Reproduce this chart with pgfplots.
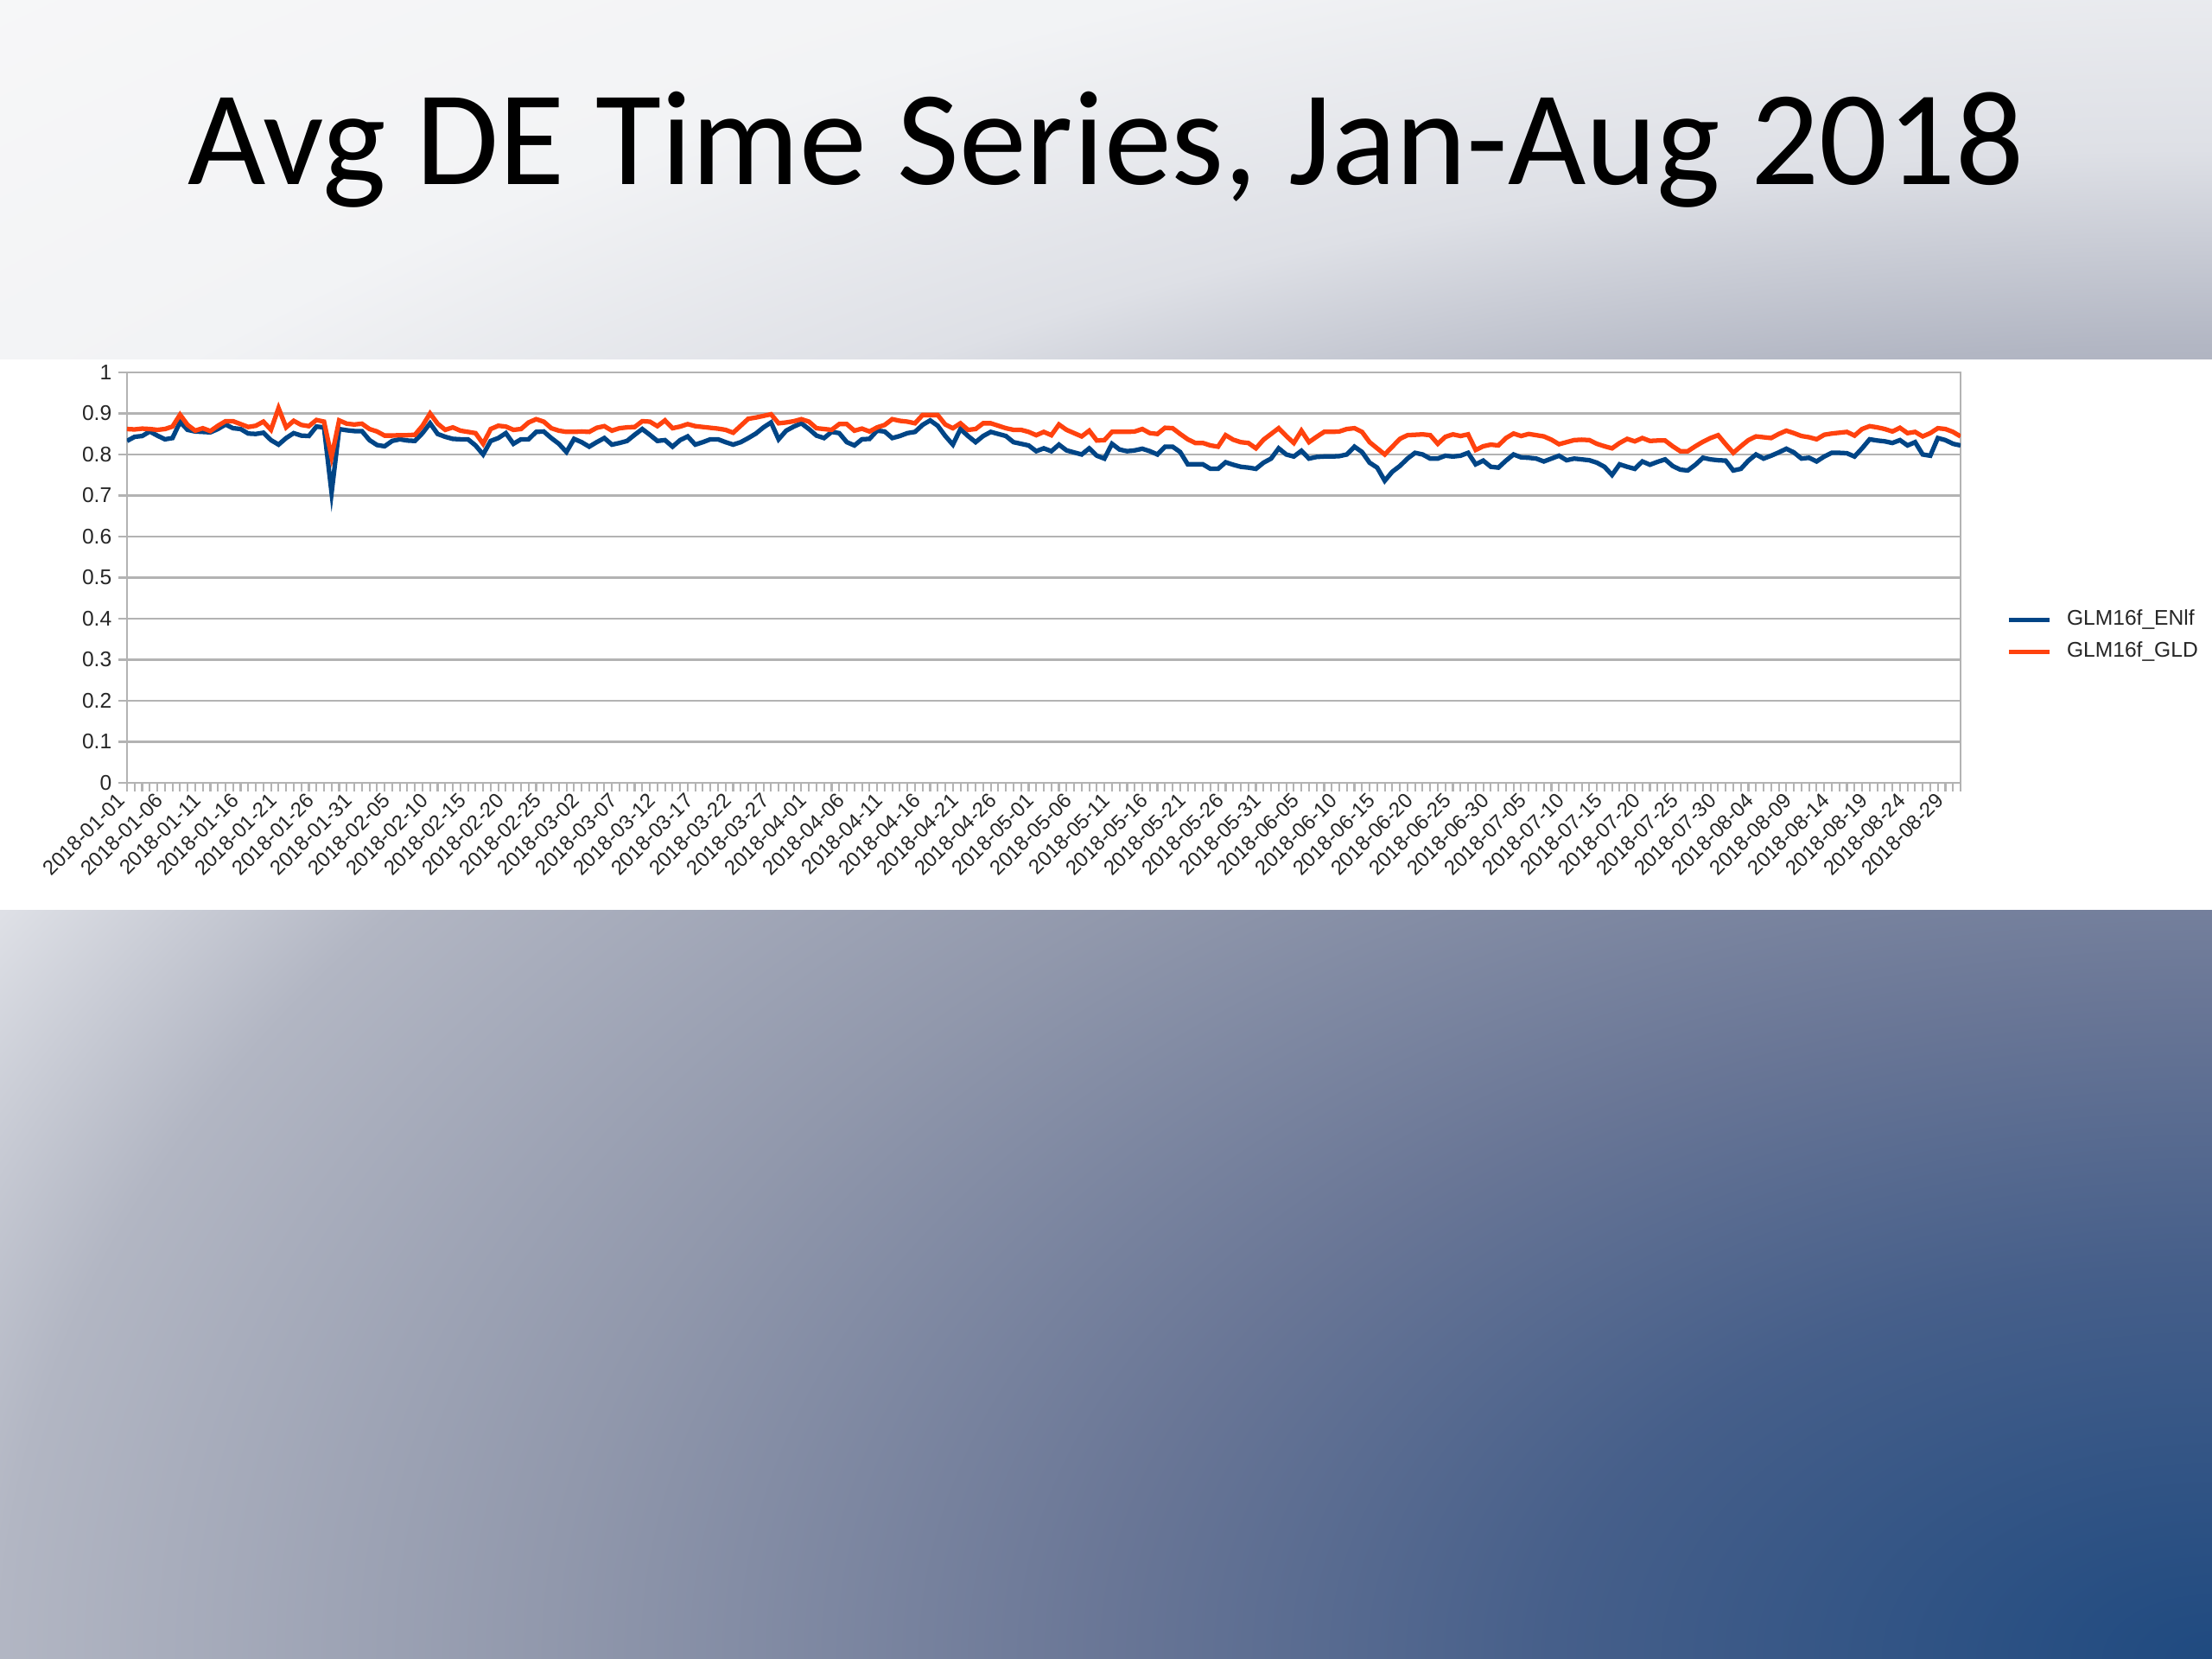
\documentclass[border=0pt]{standalone}
\usepackage{fontspec}
\setmainfont{Carlito}
\newfontfamily\chartfont{Liberation Sans}
\usepackage{pgfplots}
\usepackage{pgfplotstable}
\pgfplotsset{compat=1.18}
\definecolor{enlf}{HTML}{004586}
\definecolor{gld}{HTML}{FF420E}
\definecolor{gridc}{HTML}{B3B3B3}
\definecolor{bg0}{RGB}{31,74,128}
\definecolor{bg1}{RGB}{70,95,138}
\definecolor{bg2}{RGB}{105,118,150}
\definecolor{bg3}{RGB}{145,152,172}
\definecolor{bg4}{RGB}{178,182,195}
\definecolor{bg5}{RGB}{222,224,230}
\definecolor{bg6}{RGB}{242,243,245}
\definecolor{bg7}{RGB}{248,248,249}
\pgfdeclareradialshading{slidebg}{\pgfpoint{0bp}{0bp}}{color(0bp)=(bg0); color(4.4bp)=(bg1); color(7.35bp)=(bg2); color(11.05bp)=(bg3); color(14.7bp)=(bg4); color(16.9bp)=(bg5); color(19.85bp)=(bg6); color(25bp)=(bg7); color(50bp)=(bg7)}

\pgfplotstableread{
d enlf gld
0 0.833 0.862
1 0.843 0.861
2 0.845 0.863
3 0.856 0.862
4 0.846 0.860
5 0.837 0.862
6 0.840 0.868
7 0.879 0.897
8 0.860 0.872
9 0.856 0.858
10 0.855 0.864
11 0.854 0.857
12 0.862 0.870
13 0.873 0.881
14 0.864 0.881
15 0.862 0.874
16 0.851 0.867
17 0.850 0.870
18 0.853 0.880
19 0.835 0.860
20 0.824 0.913
21 0.840 0.866
22 0.852 0.882
23 0.846 0.872
24 0.845 0.869
25 0.868 0.884
26 0.866 0.880
27 0.707 0.794
28 0.862 0.883
29 0.859 0.875
30 0.857 0.873
31 0.857 0.875
32 0.835 0.862
33 0.823 0.856
34 0.820 0.846
35 0.833 0.846
36 0.837 0.847
37 0.834 0.847
38 0.833 0.848
39 0.852 0.870
40 0.876 0.900
41 0.850 0.875
42 0.843 0.860
43 0.838 0.866
44 0.837 0.858
45 0.837 0.855
46 0.822 0.852
47 0.800 0.826
48 0.833 0.862
49 0.840 0.870
50 0.852 0.868
51 0.826 0.860
52 0.837 0.862
53 0.837 0.878
54 0.855 0.886
55 0.856 0.880
56 0.840 0.864
57 0.826 0.858
58 0.806 0.855
59 0.838 0.855
60 0.830 0.856
61 0.819 0.855
62 0.830 0.865
63 0.840 0.869
64 0.824 0.858
65 0.828 0.864
66 0.833 0.866
67 0.848 0.867
68 0.862 0.881
69 0.848 0.880
70 0.833 0.869
71 0.835 0.883
72 0.819 0.864
73 0.835 0.868
74 0.844 0.874
75 0.824 0.869
76 0.830 0.867
77 0.837 0.865
78 0.837 0.863
79 0.830 0.860
80 0.824 0.853
81 0.830 0.870
82 0.840 0.887
83 0.851 0.890
84 0.866 0.894
85 0.878 0.898
86 0.837 0.876
87 0.858 0.878
88 0.868 0.881
89 0.876 0.886
90 0.862 0.880
91 0.846 0.864
92 0.840 0.862
93 0.855 0.860
94 0.852 0.874
95 0.830 0.874
96 0.822 0.858
97 0.837 0.863
98 0.838 0.856
99 0.858 0.866
100 0.856 0.872
101 0.840 0.886
102 0.845 0.882
103 0.852 0.880
104 0.855 0.876
105 0.872 0.896
106 0.883 0.896
107 0.870 0.896
108 0.845 0.873
109 0.824 0.864
110 0.862 0.876
111 0.845 0.860
112 0.830 0.862
113 0.845 0.876
114 0.855 0.876
115 0.850 0.870
116 0.845 0.864
117 0.830 0.860
118 0.826 0.860
119 0.822 0.855
120 0.808 0.847
121 0.815 0.855
122 0.808 0.847
123 0.824 0.873
124 0.810 0.860
125 0.805 0.852
126 0.800 0.844
127 0.815 0.858
128 0.797 0.834
129 0.790 0.835
130 0.826 0.855
131 0.812 0.855
132 0.808 0.855
133 0.810 0.856
134 0.814 0.862
135 0.808 0.852
136 0.800 0.850
137 0.819 0.865
138 0.819 0.864
139 0.806 0.850
140 0.776 0.837
141 0.776 0.828
142 0.776 0.828
143 0.765 0.822
144 0.765 0.819
145 0.781 0.847
146 0.775 0.836
147 0.770 0.830
148 0.768 0.828
149 0.765 0.815
150 0.780 0.836
151 0.790 0.850
152 0.815 0.864
153 0.800 0.845
154 0.795 0.828
155 0.809 0.858
156 0.790 0.830
157 0.794 0.843
158 0.795 0.855
159 0.795 0.855
160 0.796 0.856
161 0.800 0.862
162 0.819 0.864
163 0.806 0.855
164 0.780 0.830
165 0.768 0.815
166 0.736 0.800
167 0.758 0.819
168 0.772 0.838
169 0.790 0.847
170 0.804 0.848
171 0.800 0.849
172 0.790 0.847
173 0.790 0.826
174 0.797 0.843
175 0.795 0.849
176 0.797 0.845
177 0.804 0.849
178 0.776 0.811
179 0.785 0.820
180 0.770 0.824
181 0.768 0.822
182 0.785 0.840
183 0.800 0.851
184 0.793 0.845
185 0.792 0.850
186 0.790 0.847
187 0.783 0.844
188 0.790 0.836
189 0.797 0.825
190 0.786 0.830
191 0.790 0.835
192 0.788 0.836
193 0.786 0.835
194 0.780 0.826
195 0.770 0.820
196 0.750 0.815
197 0.776 0.828
198 0.770 0.838
199 0.765 0.832
200 0.783 0.840
201 0.775 0.833
202 0.782 0.834
203 0.788 0.834
204 0.772 0.820
205 0.763 0.808
206 0.761 0.808
207 0.775 0.820
208 0.792 0.831
209 0.788 0.840
210 0.786 0.847
211 0.785 0.825
212 0.761 0.804
213 0.765 0.820
214 0.785 0.835
215 0.800 0.844
216 0.790 0.842
217 0.797 0.840
218 0.805 0.850
219 0.814 0.858
220 0.805 0.852
221 0.790 0.845
222 0.792 0.842
223 0.783 0.837
224 0.795 0.848
225 0.804 0.851
226 0.804 0.853
227 0.803 0.855
228 0.795 0.846
229 0.815 0.862
230 0.837 0.869
231 0.834 0.866
232 0.832 0.862
233 0.828 0.856
234 0.835 0.865
235 0.822 0.852
236 0.830 0.855
237 0.800 0.844
238 0.797 0.852
239 0.840 0.864
240 0.835 0.862
241 0.826 0.855
242 0.822 0.844
}\detable

\begin{document}
\begin{tikzpicture}
\useasboundingbox (0,0) rectangle (25.6,19.2);
\begin{scope}
\clip (0,0) rectangle (25.6,19.2);
\fill[bg7] (0,0) rectangle (25.6,19.2);
\shade[shading=slidebg] (25.6,0) ellipse [x radius=43.52cm, y radius=25.84cm];
\end{scope}
\fill[white] (0,8.67) rectangle (25.6,15.04);
\node[anchor=base, inner sep=0pt, font=\fontsize{44.4}{50}\selectfont] at (12.8,17.06) {Avg DE Time Series, Jan-Aug 2018};
\begin{axis}[
  at={(1.47cm,10.14cm)}, anchor=south west,
  scale only axis, width=21.22cm, height=4.75cm,
  xmin=0, xmax=242, ymin=0, ymax=1,
  ytick={0,0.1,0.2,0.3,0.4,0.5,0.6,0.7,0.8,0.9,1},
  yticklabels={0,0.1,0.2,0.3,0.4,0.5,0.6,0.7,0.8,0.9,1},
  ymajorgrids, major grid style={gridc, line width=0.6pt},
  axis line style={gridc, line width=0.8pt},
  tick style={gridc, line width=0.6pt},
  tick align=outside, tick pos=left,
  major tick length=0.1cm, minor tick length=0.1cm,
  xtick={0,5,...,240},
  xticklabels={2018-01-01,2018-01-06,2018-01-11,2018-01-16,2018-01-21,2018-01-26,2018-01-31,2018-02-05,2018-02-10,2018-02-15,2018-02-20,2018-02-25,2018-03-02,2018-03-07,2018-03-12,2018-03-17,2018-03-22,2018-03-27,2018-04-01,2018-04-06,2018-04-11,2018-04-16,2018-04-21,2018-04-26,2018-05-01,2018-05-06,2018-05-11,2018-05-16,2018-05-21,2018-05-26,2018-05-31,2018-06-05,2018-06-10,2018-06-15,2018-06-20,2018-06-25,2018-06-30,2018-07-05,2018-07-10,2018-07-15,2018-07-20,2018-07-25,2018-07-30,2018-08-04,2018-08-09,2018-08-14,2018-08-19,2018-08-24,2018-08-29},
  minor xtick={0,1,...,242},
  xticklabel style={rotate=45, anchor=east, font=\chartfont\fontsize{6.8}{8}\selectfont, text=black!85, inner sep=2.5pt},
  yticklabel style={font=\chartfont\fontsize{7}{8}\selectfont, text=black!85, inner sep=2pt},
  legend style={at={(1.020,0.358)}, anchor=west, draw=none, fill=none, font=\chartfont\fontsize{7}{8}\selectfont, text=black!85, row sep=0pt, /tikz/every odd column/.append style={column sep=0.1cm}},
  legend cell align=left,
  legend image code/.code={\draw[#1, line width=1.5pt] (0cm,0cm) -- (0.47cm,0cm);},
]
\addplot[enlf, line width=1.5pt] table[x=d, y=enlf] {\detable};
\addlegendentry{GLM16f\_ENlf}
\addplot[gld, line width=1.5pt] table[x=d, y=gld] {\detable};
\addlegendentry{GLM16f\_GLD}
\end{axis}
\end{tikzpicture}
\end{document}
